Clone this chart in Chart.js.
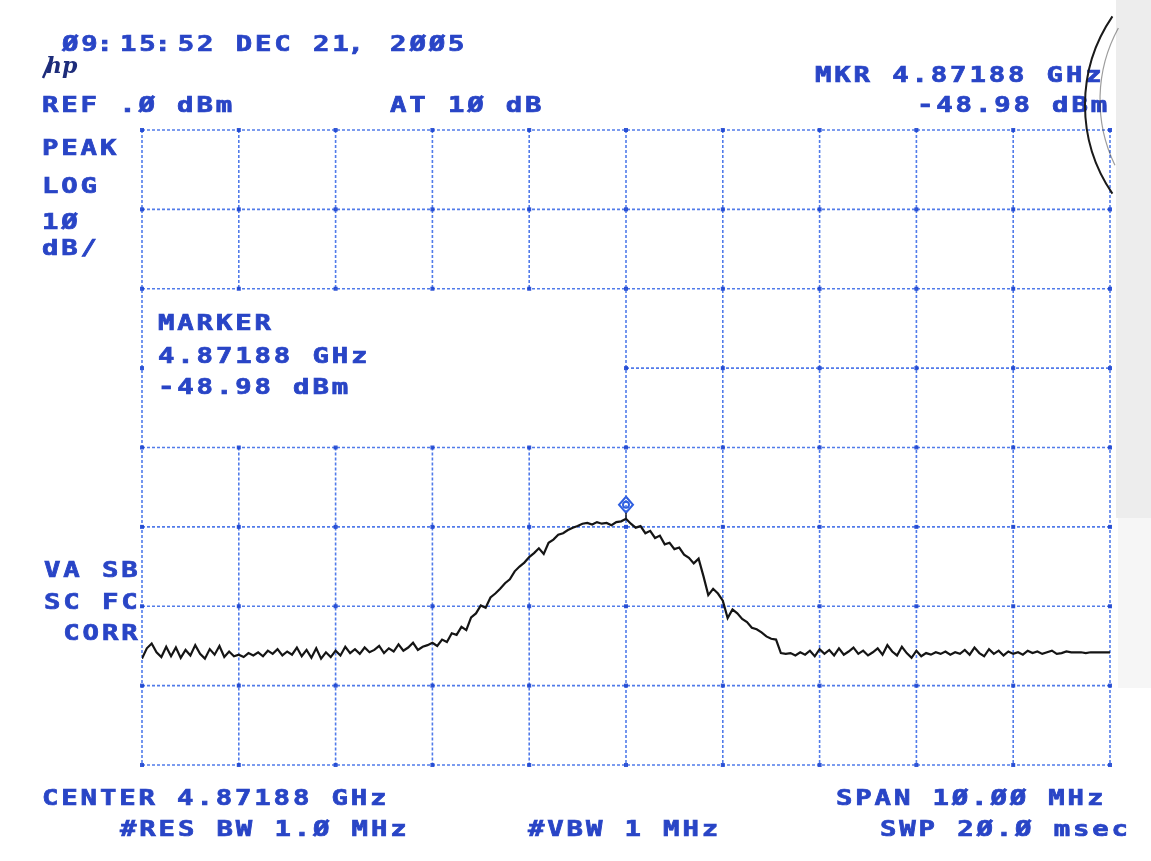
<!DOCTYPE html>
<html>
<head>
<meta charset="utf-8">
<script src="https://cdn.jsdelivr.net/npm/chart.js@4.4.0/dist/chart.umd.min.js"></script>
<style>
  html, body { margin: 0; padding: 0; background: #fff; }
  #wrap { width: 1151px; height: 861px; }
</style>
</head>
<body>
<div id="wrap"><canvas id="myChart" width="1151" height="861"></canvas></div>
<script>
'use strict'

// analyzer settings (MHz / dBm)
let centerMHz = 4871.88;
let spanMHz = 10;
let stepMHz = 0.05;
let refLevel = 0;
let bottomLevel = -80;

// trace levels, one every 0.05 MHz from left edge
let levels = [
  -66.6, -65.3, -64.7, -65.8, -66.4, -65.1, -66.3, -65.2, -66.5, -65.5,
  -66.2, -64.9, -66.0, -66.6, -65.4, -66.1, -65.0, -66.4, -65.7, -66.3,
  -66.1, -66.4, -65.9, -66.2, -65.8, -66.3, -65.6, -66.0, -65.4, -66.2,
  -65.7, -66.1, -65.2, -66.3, -65.5, -66.5, -65.3, -66.6, -65.8, -66.4,
  -65.6, -66.2, -65.1, -65.9, -65.4, -66.0, -65.2, -65.8, -65.5, -65.0,
  -65.9, -65.3, -65.7, -64.8, -65.6, -65.2, -64.6, -65.5, -65.1, -64.9,
  -64.6, -65.0, -64.2, -64.5, -63.4, -63.6, -62.6, -63.0, -61.4, -60.9,
  -59.9, -60.2, -58.9, -58.4, -57.8, -57.1, -56.6, -55.6, -55.0, -54.5,
  -53.8, -53.3, -52.7, -53.4, -52.0, -51.6, -51.0, -50.8, -50.4, -50.1,
  -49.9, -49.6, -49.5, -49.7, -49.4, -49.6, -49.5, -49.8, -49.4, -49.3,
  -48.98, -49.6, -50.1, -49.9, -50.8, -50.5, -51.4, -51.1, -52.2, -52.0,
  -52.8, -52.6, -53.5, -53.9, -54.6, -54.0, -56.2, -58.6, -57.8, -58.4,
  -59.3, -61.5, -60.4, -60.9, -61.6, -62.0, -62.7, -62.9, -63.3, -63.8,
  -64.1, -64.2, -65.9, -66.0, -65.9, -66.2, -65.8, -66.1, -65.6, -66.3,
  -65.4, -66.0, -65.5, -66.2, -65.3, -66.1, -65.7, -65.2, -66.0, -65.6,
  -66.2, -65.8, -65.3, -66.1, -64.9, -65.7, -66.2, -65.1, -65.9, -66.5,
  -65.6, -66.3, -65.9, -66.1, -65.8, -66.0, -65.7, -66.1, -65.8, -66.0,
  -65.5, -66.1, -65.2, -65.9, -66.3, -65.4, -66.0, -65.6, -66.2, -65.7,
  -66.0, -65.8, -66.1, -65.6, -65.9, -65.7, -66.0, -65.8, -65.6, -66.0,
  -65.9, -65.7, -65.8, -65.8, -65.8, -65.9, -65.8, -65.8, -65.8, -65.8,
  -65.8
];

let markerMHz = 4871.88;
let markerLevel = -48.98;

// grid divisions
let freqDivs = [-5, -4, -3, -2, -1, 0, 1, 2, 3, 4, 5];
let levelDivs = [0, -10, -20, -30, -40, -50, -60, -70, -80];

// screen annotations
let topLabels = [
  ['Ø9:15:52 DEC 21, 2ØØ5', 62, 51],
  ['REF .Ø dBm', 42, 112],
  ['AT 1Ø dB', 390, 112],
  ['MKR 4.87188 GHz', 815, 82],
  ['-48.98 dBm', 917, 112],
  ['PEAK', 42, 155],
  ['LOG', 42, 193],
  ['1Ø', 42, 229],
  ['dB/', 42, 255],
  ['MARKER', 158, 330],
  ['4.87188 GHz', 158, 363],
  ['-48.98 dBm', 158, 394],
  ['VA SB', 44, 577],
  ['SC FC', 44, 609],
  [' CORR', 44, 640],
  ['CENTER 4.87188 GHz', 42, 805],
  ['#RES BW 1.Ø MHz', 120, 836],
  ['#VBW 1 MHz', 528, 836],
  ['SPAN 1Ø.ØØ MHz', 836, 805],
  ['SWP 2Ø.Ø msec', 880, 836]
];

let startMHz = centerMHz - spanMHz / 2;
let tracePoints = [];
for (let i = 0; i < levels.length; i++) {
  tracePoints.push({ x: startMHz + i * stepMHz, y: levels[i] });
}

let pitch = 19.3;
let textColor = '#2945c6';
let gridColor = 'rgba(50, 100, 230, 0.85)';

function printText(ctx, str, x, y) {
  for (let i = 0; i < str.length; i++) {
    let ch = str[i];
    let dx = (ch === ':' || ch === ',') ? -4 : 0;
    ctx.save();
    ctx.translate(x + i * pitch + dx, y);
    ctx.scale(1.3, 1);
    ctx.fillText(ch, 0, 0);
    ctx.strokeText(ch, 0, 0);
    ctx.restore();
  }
}

function line(ctx, x1, y1, x2, y2) {
  ctx.beginPath();
  ctx.moveTo(x1, y1);
  ctx.lineTo(x2, y2);
  ctx.stroke();
}

let analyzerScreen = {
  id: 'analyzerScreen',
  beforeDatasetsDraw(chart) {
    let ctx = chart.ctx;
    let xs = chart.scales.x;
    let ys = chart.scales.y;
    let area = chart.chartArea;

    // paper edge on the right
    ctx.save();
    ctx.fillStyle = '#ededed';
    ctx.fillRect(1116, 0, 35, 518);
    ctx.fillStyle = '#f6f6f6';
    ctx.fillRect(1118, 518, 33, 170);
    ctx.restore();

    // grid, with the marker readout box left blank
    let boxRight = xs.getPixelForValue(centerMHz);
    let boxTop = ys.getPixelForValue(-20);
    let boxBottom = ys.getPixelForValue(-40);
    ctx.save();
    ctx.strokeStyle = gridColor;
    ctx.lineWidth = 1.6;
    ctx.setLineDash([3, 2]);
    for (let d of levelDivs) {
      let py = ys.getPixelForValue(d);
      if (d === -30) {
        line(ctx, boxRight, py, area.right, py);
      } else {
        line(ctx, area.left, py, area.right, py);
      }
    }
    for (let d of freqDivs) {
      let px = xs.getPixelForValue(centerMHz + d);
      if (px > area.left + 2 && px < boxRight - 2) {
        line(ctx, px, area.top, px, boxTop);
        line(ctx, px, boxBottom, px, area.bottom);
      } else {
        line(ctx, px, area.top, px, area.bottom);
      }
    }
    // small tick dots where lines cross
    ctx.setLineDash([]);
    ctx.fillStyle = 'rgba(30, 70, 210, 0.9)';
    for (let d of levelDivs) {
      let py = ys.getPixelForValue(d);
      for (let f of freqDivs) {
        let px = xs.getPixelForValue(centerMHz + f);
        if (px > area.left + 2 && px < boxRight - 2 && py > boxTop && py < boxBottom) continue;
        ctx.fillRect(px - 2, py - 2, 4, 4);
      }
    }
    ctx.restore();
  },
  afterDraw(chart) {
    let ctx = chart.ctx;
    let xs = chart.scales.x;
    let ys = chart.scales.y;

    ctx.save();
    ctx.fillStyle = textColor;
    ctx.strokeStyle = textColor;
    ctx.lineWidth = 0.7;
    ctx.font = 'bold 21px "DejaVu Sans Mono"';
    ctx.textBaseline = 'alphabetic';
    for (let t of topLabels) {
      printText(ctx, t[0], t[1], t[2]);
    }

    // hp logo
    ctx.fillStyle = '#1d2c7a';
    ctx.font = 'italic bold 22px "DejaVu Serif"';
    ctx.fillText('hp', 46, 73);
    ctx.strokeStyle = '#1d2c7a';
    ctx.lineWidth = 2.5;
    line(ctx, 43, 78, 50, 62);

    // marker diamond
    let mx = xs.getPixelForValue(markerMHz);
    let my = ys.getPixelForValue(markerLevel) - 14;
    ctx.strokeStyle = '#2f5fe0';
    ctx.lineWidth = 2;
    ctx.beginPath();
    ctx.moveTo(mx, my - 8);
    ctx.lineTo(mx + 7, my);
    ctx.lineTo(mx, my + 8);
    ctx.lineTo(mx - 7, my);
    ctx.closePath();
    ctx.stroke();
    ctx.beginPath();
    ctx.arc(mx, my, 3, 0, Math.PI * 2);
    ctx.stroke();
    ctx.strokeStyle = '#222';
    ctx.lineWidth = 1.5;
    line(ctx, mx, my + 8, mx, ys.getPixelForValue(markerLevel));

    // pen circle on the paper, top right
    ctx.strokeStyle = '#1a1a1a';
    ctx.lineWidth = 2;
    ctx.beginPath();
    ctx.arc(1242, 105, 157, Math.PI - 0.6, Math.PI + 0.6);
    ctx.stroke();
    ctx.strokeStyle = 'rgba(60,60,60,0.5)';
    ctx.lineWidth = 1.2;
    ctx.beginPath();
    ctx.arc(1250, 100, 150, Math.PI - 0.45, Math.PI + 0.5);
    ctx.stroke();
    ctx.restore();
  }
};

let ctx = document.getElementById('myChart').getContext('2d');
let chart = new Chart(ctx, {
  type: 'line',
  data: {
    datasets: [{
      label: 'trace',
      data: tracePoints,
      borderColor: '#151515',
      borderWidth: 2.2,
      pointRadius: 0,
      tension: 0
    }]
  },
  options: {
    responsive: false,
    animation: false,
    layout: { padding: { left: 142, right: 41, top: 130, bottom: 96 } },
    scales: {
      x: { type: 'linear', display: false, min: startMHz, max: startMHz + spanMHz },
      y: { display: false, min: bottomLevel, max: refLevel }
    },
    plugins: {
      legend: { display: false },
      tooltip: { enabled: false }
    }
  },
  plugins: [analyzerScreen]
});
</script>
</body>
</html>
